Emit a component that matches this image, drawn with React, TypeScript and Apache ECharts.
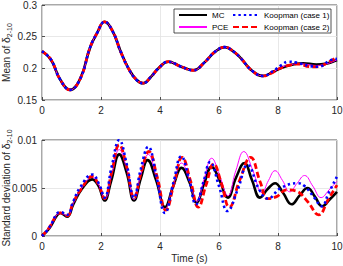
import React, { useEffect, useRef } from "react";
import * as echarts from "echarts";

// ---- data (time in s, value) ----
const xTicks = [0, 2, 4, 6, 8, 10];

const meanShared: number[][] = [
  [0, 0.227], [0.3, 0.214], [0.62, 0.182], [0.95, 0.166], [1.3, 0.184], [1.63, 0.233],
  [1.87, 0.256], [2.12, 0.2735], [2.4, 0.258], [2.67, 0.226], [2.93, 0.2], [3.2, 0.182],
  [3.43, 0.1765], [3.7, 0.187], [3.95, 0.2], [4.28, 0.2105], [4.7, 0.203], [5.13, 0.197],
  [5.5, 0.209], [5.86, 0.226], [6.2, 0.2335], [6.45, 0.228], [6.72, 0.217], [7.1, 0.197],
  [7.5, 0.188],
];
const meanTailMC: number[][] = [[7.85, 0.195], [8.25, 0.203], [8.85, 0.208], [9.3, 0.206], [9.6, 0.207], [10, 0.213]];
const meanTailPCE: number[][] = [[7.85, 0.195], [8.25, 0.204], [8.8, 0.207], [9.3, 0.2045], [9.65, 0.207], [10, 0.2135]];
const meanTailK1: number[][] = [[7.84, 0.196], [8.12, 0.205], [8.35, 0.2105], [8.63, 0.209], [9.08, 0.2037], [9.37, 0.2026], [9.76, 0.2125], [10, 0.215]];
const meanTailK2: number[][] = [[7.84, 0.194], [8.07, 0.2], [8.4, 0.205], [8.7, 0.2068], [9.08, 0.2026], [9.3, 0.2025], [9.6, 0.207], [10, 0.218]];

const stdMC: number[][] = [
  [0, 0], [0.25, 0.0008], [0.5, 0.0021], [0.62, 0.0024], [0.85, 0.002], [1.06, 0.0033], [1.35, 0.0049],
  [1.7, 0.0059], [1.92, 0.0052], [2.12, 0.0037], [2.35, 0.0058], [2.62, 0.0085], [2.87, 0.0066],
  [3.12, 0.0037], [3.35, 0.006], [3.58, 0.0079], [3.87, 0.0058], [4.17, 0.003], [4.45, 0.0052],
  [4.73, 0.0071], [5.0, 0.0056], [5.24, 0.0035], [5.5, 0.0055], [5.75, 0.0072], [6.02, 0.0058],
  [6.3, 0.004], [6.58, 0.0061], [6.86, 0.0076], [7.12, 0.0058], [7.39, 0.004], [7.65, 0.0049],
  [7.9, 0.0055], [8.17, 0.0045], [8.46, 0.0033], [8.73, 0.0042], [9.0, 0.005], [9.25, 0.0041],
  [9.5, 0.0031], [9.75, 0.0038], [10, 0.0046],
];
const stdPCE: number[][] = [
  [0, 0], [0.25, 0.0009], [0.5, 0.0022], [0.62, 0.0024], [0.85, 0.0021], [1.06, 0.0034], [1.35, 0.005],
  [1.7, 0.0061], [1.93, 0.0053], [2.12, 0.0038], [2.35, 0.0062], [2.62, 0.009], [2.87, 0.007],
  [3.12, 0.0038], [3.35, 0.0064], [3.6, 0.0085], [3.88, 0.006], [4.17, 0.0028], [4.45, 0.0053],
  [4.73, 0.0076], [5.0, 0.0058], [5.25, 0.0036], [5.5, 0.006], [5.75, 0.0081], [6.03, 0.0062],
  [6.3, 0.0042], [6.57, 0.0068], [6.84, 0.0088], [7.15, 0.0068], [7.46, 0.0045], [7.68, 0.0058],
  [7.9, 0.0068], [8.15, 0.0058], [8.4, 0.0046], [8.65, 0.0055], [8.9, 0.0063], [9.18, 0.0052],
  [9.46, 0.004], [9.73, 0.0048], [10, 0.0057],
];
const stdK1: number[][] = [
  [0, 0], [0.25, 0.0009], [0.5, 0.0023], [0.62, 0.0025], [0.85, 0.0022], [1.06, 0.0036], [1.3, 0.0051],
  [1.7, 0.0064], [1.95, 0.0053], [2.12, 0.004], [2.36, 0.0072], [2.62, 0.01], [2.87, 0.0075],
  [3.12, 0.004], [3.35, 0.007], [3.6, 0.0093], [3.88, 0.0062], [4.17, 0.0024], [4.45, 0.0055],
  [4.72, 0.0083], [4.98, 0.006], [5.22, 0.0033], [5.47, 0.0056], [5.7, 0.0077], [6.0, 0.0052],
  [6.29, 0.0026], [6.63, 0.0048], [6.97, 0.0074], [7.37, 0.0048], [7.65, 0.0039], [8.1, 0.005],
  [8.67, 0.0055], [8.9, 0.0052], [9.23, 0.004], [9.48, 0.0031], [9.72, 0.0045], [10, 0.0062],
];
const stdK2: number[][] = [
  [0, 0], [0.25, 0.0009], [0.5, 0.0022], [0.62, 0.0024], [0.85, 0.0021], [1.06, 0.0035], [1.33, 0.0049],
  [1.7, 0.0062], [1.95, 0.0051], [2.12, 0.0039], [2.36, 0.0066], [2.62, 0.0095], [2.87, 0.0072],
  [3.12, 0.004], [3.37, 0.0067], [3.62, 0.0088], [3.9, 0.0062], [4.2, 0.0027], [4.48, 0.0055],
  [4.75, 0.0082], [5.03, 0.0058], [5.3, 0.003], [5.56, 0.0053], [5.82, 0.0075], [6.08, 0.0055],
  [6.35, 0.003], [6.7, 0.0058], [7.07, 0.0082], [7.4, 0.0056], [7.65, 0.0039], [7.95, 0.0041],
  [8.3, 0.0048], [8.6, 0.0047], [9.0, 0.0036], [9.38, 0.0022], [9.7, 0.0038], [10, 0.0053],
];

const seriesNames = ["MC", "PCE", "Koopman (case 1)", "Koopman (case 2)"];
const meanData = [
  meanShared.concat(meanTailMC),
  meanShared.concat(meanTailPCE),
  meanShared.concat(meanTailK1),
  meanShared.concat(meanTailK2),
];
const stdData = [stdMC, stdPCE, stdK1, stdK2];

const FONT = "'Liberation Sans', Arial, Helvetica, sans-serif";
const AX = "#262626";

const lineStyles: any[] = [
  { color: "#000000", width: 2.6, type: "solid" },
  { color: "#ff00ff", width: 1, type: "solid" },
  { color: "#0000ff", width: 2.6, type: [2.4, 3], cap: "butt" },
  { color: "#ff0000", width: 2.8, type: [6, 3], cap: "butt" },
];
// drawing order: MC, PCE, case 2, case 1 (blue dots on top)
const drawOrder = [0, 1, 3, 2];

function xAxisOpt(gridIndex: number, withName: boolean) {
  return {
    type: "value",
    gridIndex,
    min: xTicks[0],
    max: xTicks[xTicks.length - 1],
    interval: 2,
    axisLine: { show: false },
    axisTick: { show: true, inside: true, length: 3, lineStyle: { color: AX, width: 0.8 } },
    axisLabel: { color: AX, fontSize: 10, fontFamily: FONT, margin: 5 },
    splitLine: { show: true, lineStyle: { color: "#e2e2e2", width: 0.8 } },
    name: withName ? "Time (s)" : "",
    nameLocation: "middle",
    nameGap: 17,
    nameMoveOverlap: false,
    nameTextStyle: { color: AX, fontSize: 10, fontFamily: FONT },
  };
}

function yAxisOpt(gridIndex: number, min: number, max: number, interval: number, label: string) {
  return {
    type: "value",
    gridIndex,
    min,
    max,
    interval,
    axisLine: { show: false },
    axisTick: { show: true, inside: true, length: 3, lineStyle: { color: AX, width: 0.8 } },
    axisLabel: { color: AX, fontSize: 10, fontFamily: FONT, margin: 5 },
    splitLine: { show: true, lineStyle: { color: "#e2e2e2", width: 0.8 } },
    name: `{a|${label} }{d|δ}{s|2-10}`,
    nameLocation: "middle",
    nameRotate: 90,
    nameGap: 29,
    nameMoveOverlap: false,
    nameTextStyle: {
      color: AX,
      fontSize: 10,
      fontFamily: FONT,
      rich: {
        a: { fontSize: 10, fontFamily: FONT, color: AX, lineHeight: 14 },
        d: { fontSize: 10.5, fontFamily: FONT, color: AX, lineHeight: 14 },
        s: { fontSize: 7, fontFamily: FONT, color: AX, verticalAlign: "bottom" },
      },
    },
  };
}

export default function App() {
  const ref = useRef<HTMLDivElement>(null);
  useEffect(() => {
    document.body.style.margin = "0";
    if (!ref.current) return;
    const chart = echarts.init(ref.current, null, { renderer: "svg" });
    const series: any[] = [];
    drawOrder.forEach((i) => {
      series.push({
        name: seriesNames[i],
        type: "line",
        xAxisIndex: 0,
        yAxisIndex: 0,
        data: meanData[i],
        symbol: "none",
        smooth: 0.45,
        lineStyle: lineStyles[i],
        itemStyle: { color: lineStyles[i].color },
      });
    });
    drawOrder.forEach((i) => {
      series.push({
        name: seriesNames[i],
        type: "line",
        xAxisIndex: 1,
        yAxisIndex: 1,
        data: stdData[i],
        symbol: "none",
        smooth: 0.45,
        lineStyle: lineStyles[i],
        itemStyle: { color: lineStyles[i].color },
      });
    });
    const legendCommon = {
      orient: "vertical",
      top: 11,
      padding: 0,
      itemHeight: 8,
      itemGap: 4,
      selectedMode: false,
      itemStyle: { opacity: 0, borderWidth: 0 },
      textStyle: { fontSize: 8, fontFamily: FONT, color: "#000" },
    };
    chart.setOption({
      animation: false,
      backgroundColor: "#ffffff",
      grid: [
        { left: 42, top: 5, width: 295, height: 95, show: true, borderColor: AX, borderWidth: 0.8, containLabel: false, outerBoundsMode: "none" },
        { left: 42, top: 140, width: 295, height: 96, show: true, borderColor: AX, borderWidth: 0.8, containLabel: false, outerBoundsMode: "none" },
      ],
      xAxis: [xAxisOpt(0, false), xAxisOpt(1, true)],
      yAxis: [
        yAxisOpt(0, 0.15, 0.3, 0.05, "Mean of"),
        yAxisOpt(1, 0, 0.01, 0.005, "Standard deviation of"),
      ],
      legend: [
        { ...legendCommon, data: [seriesNames[0], seriesNames[1]], left: 178, itemWidth: 28 },
        { ...legendCommon, data: [seriesNames[2], seriesNames[3]], left: 232, itemWidth: 26 },
      ],
      graphic: [
        {
          type: "rect",
          z: 3,
          shape: { x: 174, y: 9, width: 157, height: 24 },
          style: { fill: "#ffffff", stroke: AX, lineWidth: 0.8 },
        },
      ],
      series,
    });
    return () => chart.dispose();
  }, []);
  return (
    <div
      ref={ref}
      style={{ position: "absolute", left: 0, top: 0, width: 343, height: 266 }}
    />
  );
}
